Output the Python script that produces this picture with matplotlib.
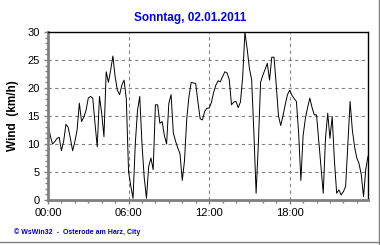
import numpy as np
import matplotlib
matplotlib.use("Agg")
import matplotlib.pyplot as plt
from matplotlib.lines import Line2D

plt.rcParams['font.family'] = ['Liberation Sans', 'DejaVu Sans']

title = "Sonntag, 02.01.2011"
ylabel = "Wind  (km/h)"
footer = "\u00a9 WsWin32  -  Osterode am Harz, City"
tick_hours = [0, 6, 12, 18]
tick_labels = ["00:00", "06:00", "12:00", "18:00"]

# wind speed, one value every 10 minutes (00:00 .. 23:50)
wind = [
    13.8, 11.5, 10.0, 10.4, 11.0, 11.2, 8.8, 10.5, 13.5, 13.0, 11.0, 8.8,
    10.4, 12.5, 17.3, 14.0, 14.8, 16.0, 18.2, 18.5, 18.2, 13.7, 9.5, 18.5,
    15.5, 11.3, 22.9, 21.0, 23.2, 25.7, 22.0, 19.6, 18.8, 20.5, 21.4, 18.0,
    5.0, 2.5, 0.3, 10.0, 16.0, 18.5, 10.0, 4.0, 0.3, 6.0, 7.5, 5.4,
    17.0, 17.0, 13.7, 14.0, 11.5, 10.0, 17.3, 18.8, 12.0, 10.5, 9.3, 8.2,
    3.5, 7.0, 14.5, 18.5, 21.0, 20.9, 20.8, 17.5, 14.5, 14.3, 15.8, 16.4,
    16.4, 17.4, 19.2, 20.5, 21.3, 21.1, 22.0, 22.9, 22.7, 21.5, 17.0, 17.5,
    17.6, 16.5, 17.5, 22.0, 30.0, 27.0, 23.5, 21.5, 12.0, 1.2, 10.0, 21.0,
    22.3, 23.3, 24.4, 21.4, 25.5, 25.5, 20.5, 15.0, 13.3, 15.0, 17.0, 18.8,
    19.6, 18.7, 18.1, 17.6, 12.0, 3.5, 11.5, 14.5, 16.5, 18.2, 16.5, 15.2,
    15.2, 10.5, 6.0, 1.2, 11.0, 15.5, 11.0, 14.9, 7.0, 1.2, 1.8, 0.9,
    1.5, 2.4, 10.0, 17.6, 12.5, 9.5, 7.5, 6.5, 4.5, 0.6, 5.5, 7.8,
]
hours = np.arange(len(wind)) / 6.0

fig = plt.figure(figsize=(3.8, 2.45), dpi=100)
ax = fig.add_axes([48 / 380, 45 / 245, 320 / 380, 168 / 245])

ax.plot(hours, wind, color='black', lw=0.7)
ax.set_xlim(0, hours[-1])
ax.set_ylim(0, 30)

ax.set_xticks(tick_hours)
ax.set_xticklabels(tick_labels)
ax.set_xticks(np.arange(0, 24), minor=True)
ax.set_yticks(np.arange(0, 31, 5))
ax.set_yticks(np.arange(0, 31, 1), minor=True)

for y in range(5, 30, 5):
    ax.axhline(y, color='#808080', lw=0.8, ls=(0, (3, 3)), zorder=0)
for x in tick_hours[1:]:
    ax.axvline(x, color='#808080', lw=0.8, ls=(0, (3, 3)), zorder=0)

ax.tick_params(axis='both', which='major', labelsize=8, length=3,
               color='#808080', width=1, pad=3)
ax.tick_params(axis='both', which='minor', length=2, color='#808080', width=1)

for side in ['left', 'bottom']:
    ax.spines[side].set_color('#808080')
    ax.spines[side].set_linewidth(2)
for side in ['top', 'right']:
    ax.spines[side].set_color('black')
    ax.spines[side].set_linewidth(1)

ax.set_ylabel(ylabel, fontsize=8.5, fontweight='bold', labelpad=6)
fig.text(190 / 380, 1 - 18 / 245, title, color='#0000ee', fontsize=8.5,
         fontweight='bold', ha='center', va='center')
fig.text(14 / 380, 1 - 232 / 245, footer, color='#0000cc', fontsize=5,
         fontweight='bold', ha='left', va='center')

# bevel frame on right and bottom
fig.add_artist(Line2D([378.5 / 380, 378.5 / 380], [1 / 245, 1], color='#808080',
                      lw=1, transform=fig.transFigure))
fig.add_artist(Line2D([0, 378.5 / 380], [3 / 245, 3 / 245], color='#808080',
                      lw=1, transform=fig.transFigure))

fig.savefig("out.png", dpi=100)
